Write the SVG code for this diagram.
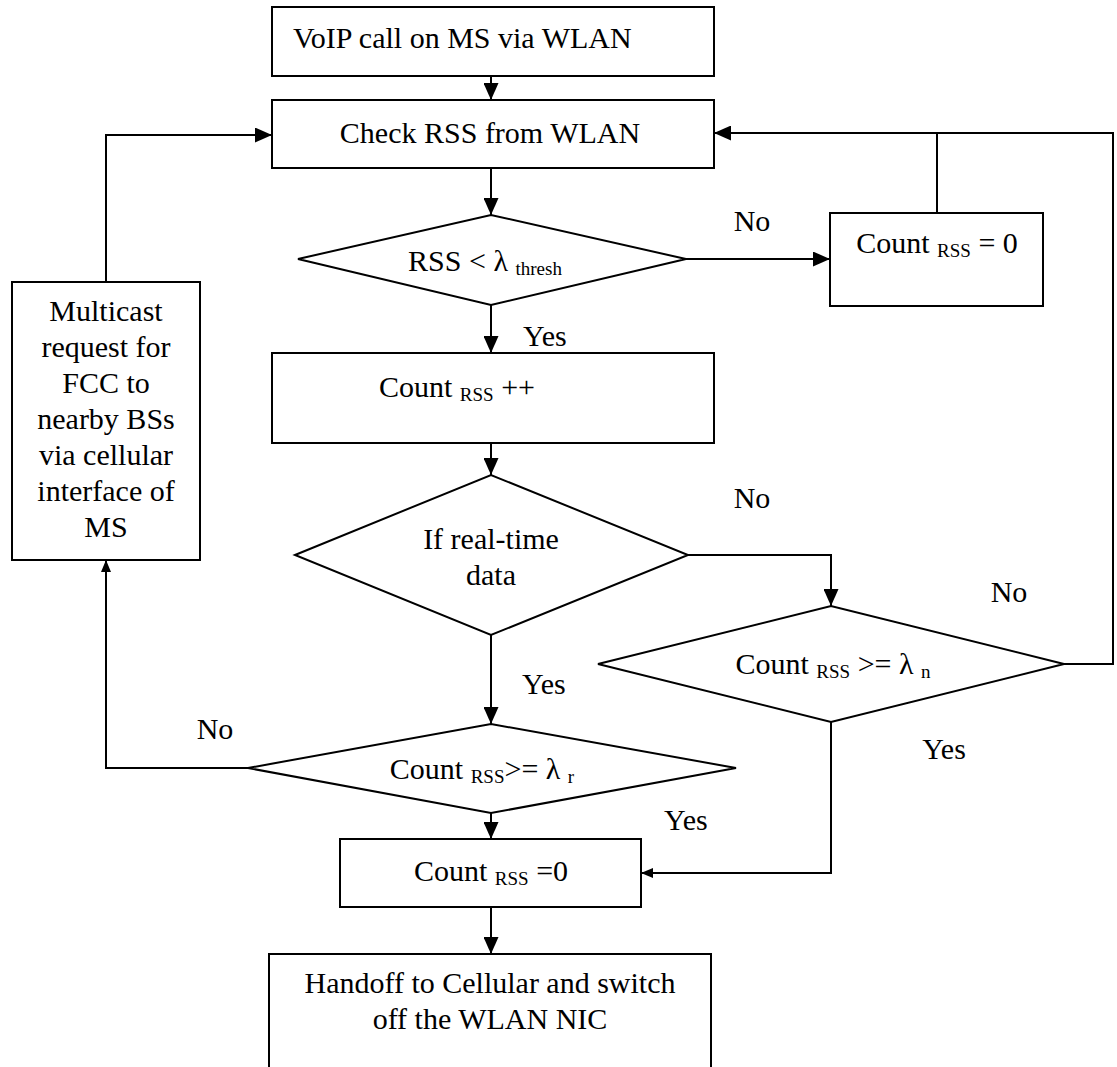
<svg xmlns="http://www.w3.org/2000/svg" width="1117" height="1067" viewBox="0 0 1117 1067">
<style>
.box{fill:#fff;stroke:#000;stroke-width:2}
.ln{fill:none;stroke:#000;stroke-width:2}
text{font-family:"Liberation Serif","Times New Roman",serif;font-size:30px;fill:#000}
.c{text-anchor:middle}
.sub{font-size:19px}
</style>
<defs>
<marker id="arr" markerUnits="userSpaceOnUse" markerWidth="17" markerHeight="15" refX="17" refY="7.5" orient="auto">
<path d="M0,0 L17,7.5 L0,15 z" fill="#000"/>
</marker>
<marker id="arrS" markerUnits="userSpaceOnUse" markerWidth="12" markerHeight="10" refX="12" refY="5" orient="auto">
<path d="M0,0 L12,5 L0,10 z" fill="#000"/>
</marker>
</defs>
<rect width="1117" height="1067" fill="#fff"/>
<g id="connectors">
<line class="ln" x1="491" y1="76" x2="491" y2="100" marker-end="url(#arr)"/>
<line class="ln" x1="491" y1="168" x2="491" y2="215" marker-end="url(#arr)"/>
<line class="ln" x1="686" y1="259" x2="830" y2="259" marker-end="url(#arr)"/>
<line class="ln" x1="937" y1="213" x2="937" y2="133"/>
<line class="ln" x1="491" y1="305" x2="491" y2="353" marker-end="url(#arr)"/>
<line class="ln" x1="491" y1="443" x2="491" y2="475" marker-end="url(#arr)"/>
<polyline class="ln" points="688,555 831,555 831,606" marker-end="url(#arr)"/>
<polyline class="ln" points="1064,664 1113,664 1113,133 714,133" marker-end="url(#arr)"/>
<polyline class="ln" points="831,722 831,873 641,873" marker-end="url(#arrS)"/>
<line class="ln" x1="491" y1="635" x2="491" y2="724" marker-end="url(#arr)"/>
<polyline class="ln" points="248,768 106,768 106,560" marker-end="url(#arrS)"/>
<polyline class="ln" points="106,282 106,135 272,135" marker-end="url(#arr)"/>
<line class="ln" x1="491" y1="813" x2="491" y2="839" marker-end="url(#arr)"/>
<line class="ln" x1="491" y1="907" x2="491" y2="954" marker-end="url(#arr)"/>
<text x="752" y="231" class="c">No</text>
<text x="523" y="346">Yes</text>
<text x="752" y="508" class="c">No</text>
<text x="1009" y="602" class="c">No</text>
<text x="522" y="694">Yes</text>
<text x="215" y="739" class="c">No</text>
<text x="944" y="759" class="c">Yes</text>
<text x="664" y="830">Yes</text>
</g>
<g id="n-voip">
<rect class="box" x="272" y="7" width="442" height="69"/>
<text x="293" y="48">VoIP call on MS via WLAN</text>
</g>
<g id="n-check">
<rect class="box" x="272" y="100" width="442" height="68"/>
<text x="490" y="143" class="c">Check RSS from WLAN</text>
</g>
<g id="d-thresh">
<polygon class="box" points="298,259 491,215 686,259 491,305"/>
<text x="485" y="271" class="c">RSS &lt; λ <tspan class="sub" dy="4">thresh</tspan></text>
</g>
<g id="n-reset1">
<rect class="box" x="830" y="213" width="213" height="93"/>
<text x="937" y="253" class="c">Count <tspan class="sub" dy="4">RSS</tspan><tspan dy="-4"> = 0</tspan></text>
</g>
<g id="n-inc">
<rect class="box" x="272" y="353" width="442" height="90"/>
<text x="457" y="397" class="c">Count <tspan class="sub" dy="4">RSS</tspan><tspan dy="-4"> ++</tspan></text>
</g>
<g id="d-realtime">
<polygon class="box" points="295,555 491,475 688,555 491,635"/>
<text x="491" y="549" class="c">If real-time</text>
<text x="491" y="585" class="c">data</text>
</g>
<g id="d-n">
<polygon class="box" points="598,664 831,606 1064,664 831,722"/>
<text x="833" y="674" class="c">Count <tspan class="sub" dy="4">RSS</tspan><tspan dy="-4"> &gt;= λ </tspan><tspan class="sub" dy="4">n</tspan></text>
</g>
<g id="d-r">
<polygon class="box" points="248,768 491,724 736,768 491,813"/>
<text x="482" y="779" class="c">Count <tspan class="sub" dy="4">RSS</tspan><tspan dy="-4">&gt;= λ </tspan><tspan class="sub" dy="4">r</tspan></text>
</g>
<g id="n-multicast">
<rect class="box" x="12" y="282" width="188" height="278"/>
<text x="106" y="321" class="c">Multicast</text>
<text x="106" y="357" class="c">request for</text>
<text x="106" y="393" class="c">FCC to</text>
<text x="106" y="429" class="c">nearby BSs</text>
<text x="106" y="465" class="c">via cellular</text>
<text x="106" y="501" class="c">interface of</text>
<text x="106" y="537" class="c">MS</text>
</g>
<g id="n-reset2">
<rect class="box" x="340" y="839" width="301" height="68"/>
<text x="491" y="881" class="c">Count <tspan class="sub" dy="4">RSS</tspan><tspan dy="-4"> =0</tspan></text>
</g>
<g id="n-handoff">
<rect class="box" x="269" y="954" width="442" height="130"/>
<text x="490" y="993" class="c">Handoff to Cellular and switch</text>
<text x="490" y="1029" class="c">off the WLAN NIC</text>
</g>
</svg>
